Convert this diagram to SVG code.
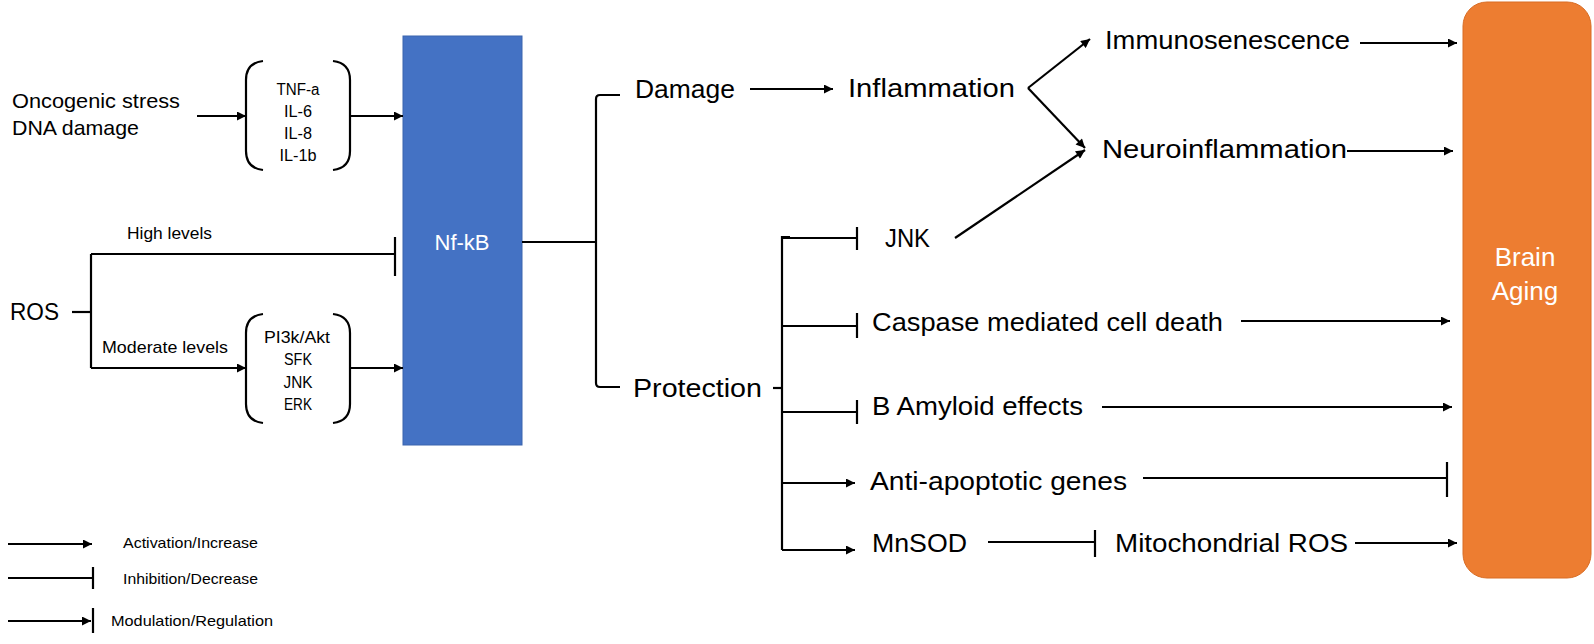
<svg xmlns="http://www.w3.org/2000/svg" width="1594" height="644" viewBox="0 0 1594 644">
<style>
.ln{stroke:#000;stroke-width:2.2;fill:none}
.t{font-family:"Liberation Sans",Arial,sans-serif;fill:#000}
.big{font-size:26px}
.mid{font-size:21px}
.sm{font-size:17px}
.br{font-size:16px}
.lg{font-size:15px}
.w{fill:#fff}
</style>
<defs>
<marker id="arr" viewBox="0 0 10 10" refX="10" refY="5" markerWidth="10" markerHeight="9" markerUnits="userSpaceOnUse" orient="auto">
<path d="M0,0 L10,5 L0,10 z" fill="#000"/>
</marker>
</defs>
<rect width="1594" height="644" fill="#fff"/>

<g id="nfkb">
<rect x="403" y="36" width="119" height="409" fill="#4472C4" stroke="#3A64AE" stroke-width="1"/>
<text class="t w" x="462" y="250" font-size="22" text-anchor="middle">Nf-kB</text>
</g>
<g id="brain-aging">
<rect x="1463" y="2" width="128" height="576" rx="24" ry="24" fill="#ED7D31" stroke="#D96D25" stroke-width="1"/>
<text class="t w" x="1525" y="266" font-size="26" text-anchor="middle">Brain</text>
<text class="t w" x="1525" y="300" font-size="26" text-anchor="middle">Aging</text>
</g>
<g id="stress">
<text class="t mid" x="12" y="108" textLength="168" lengthAdjust="spacingAndGlyphs">Oncogenic stress</text>
<text class="t mid" x="12" y="135" textLength="127" lengthAdjust="spacingAndGlyphs">DNA damage</text>
</g>
<g id="cytokines">
<path class="ln" d="M263,61 Q246,63 246,80 L246,151 Q246,168 263,170"/>
<path class="ln" d="M333,61 Q350,63 350,80 L350,151 Q350,168 333,170"/>
<text class="t br" x="298" y="95" text-anchor="middle" textLength="43" lengthAdjust="spacingAndGlyphs">TNF-a</text>
<text class="t br" x="298" y="117" text-anchor="middle" textLength="28" lengthAdjust="spacingAndGlyphs">IL-6</text>
<text class="t br" x="298" y="139" text-anchor="middle" textLength="28" lengthAdjust="spacingAndGlyphs">IL-8</text>
<text class="t br" x="298" y="161" text-anchor="middle" textLength="37" lengthAdjust="spacingAndGlyphs">IL-1b</text>
</g>
<g id="ros">
<text class="t" x="10" y="320" font-size="24" textLength="49" lengthAdjust="spacingAndGlyphs">ROS</text>
</g>
<g id="ros-labels">
<text class="t sm" x="127" y="239" textLength="85" lengthAdjust="spacingAndGlyphs">High levels</text>
<text class="t sm" x="102" y="353" textLength="126" lengthAdjust="spacingAndGlyphs">Moderate levels</text>
</g>
<g id="kinases">
<path class="ln" d="M263,314 Q246,316 246,333 L246,404 Q246,421 263,423"/>
<path class="ln" d="M333,314 Q350,316 350,333 L350,404 Q350,421 333,423"/>
<text class="t br" x="297" y="343" text-anchor="middle" textLength="66" lengthAdjust="spacingAndGlyphs">PI3k/Akt</text>
<text class="t br" x="298" y="365" text-anchor="middle" textLength="28" lengthAdjust="spacingAndGlyphs">SFK</text>
<text class="t br" x="298" y="388" text-anchor="middle" textLength="29" lengthAdjust="spacingAndGlyphs">JNK</text>
<text class="t br" x="298" y="410" text-anchor="middle" textLength="28" lengthAdjust="spacingAndGlyphs">ERK</text>
</g>
<g id="damage"><text class="t big" x="635" y="98" textLength="100" lengthAdjust="spacingAndGlyphs">Damage</text></g>
<g id="protection"><text class="t big" x="633" y="397" textLength="129" lengthAdjust="spacingAndGlyphs">Protection</text></g>
<g id="inflammation"><text class="t big" x="848" y="97" textLength="167" lengthAdjust="spacingAndGlyphs">Inflammation</text></g>
<g id="immunosenescence"><text class="t big" x="1105" y="49" textLength="245" lengthAdjust="spacingAndGlyphs">Immunosenescence</text></g>
<g id="neuroinflammation"><text class="t big" x="1102" y="158" textLength="245" lengthAdjust="spacingAndGlyphs">Neuroinflammation</text></g>
<g id="jnk"><text class="t big" x="885" y="247" textLength="45" lengthAdjust="spacingAndGlyphs">JNK</text></g>
<g id="caspase"><text class="t big" x="872" y="331" textLength="351" lengthAdjust="spacingAndGlyphs">Caspase mediated cell death</text></g>
<g id="amyloid"><text class="t big" x="872" y="415" textLength="211" lengthAdjust="spacingAndGlyphs">B Amyloid effects</text></g>
<g id="antiapoptotic"><text class="t big" x="870" y="490" textLength="257" lengthAdjust="spacingAndGlyphs">Anti-apoptotic genes</text></g>
<g id="mnsod"><text class="t big" x="872" y="552" textLength="95" lengthAdjust="spacingAndGlyphs">MnSOD</text></g>
<g id="mito-ros"><text class="t big" x="1115" y="552" textLength="233" lengthAdjust="spacingAndGlyphs">Mitochondrial ROS</text></g>
<g id="legend">
<text class="t lg" x="123" y="548" textLength="135" lengthAdjust="spacingAndGlyphs">Activation/Increase</text>
<text class="t lg" x="123" y="584" textLength="135" lengthAdjust="spacingAndGlyphs">Inhibition/Decrease</text>
<text class="t lg" x="111" y="626" textLength="162" lengthAdjust="spacingAndGlyphs">Modulation/Regulation</text>
</g>

<g id="connectors">
<line class="ln" x1="197" y1="116" x2="246" y2="116" marker-end="url(#arr)"/>
<line class="ln" x1="350" y1="116" x2="403" y2="116" marker-end="url(#arr)"/>
<line class="ln" x1="72" y1="312" x2="91" y2="312"/>
<line class="ln" x1="91" y1="254" x2="91" y2="368"/>
<line class="ln" x1="91" y1="254" x2="395" y2="254"/>
<line class="ln" x1="395" y1="237" x2="395" y2="276"/>
<line class="ln" x1="91" y1="368" x2="246" y2="368" marker-end="url(#arr)"/>
<line class="ln" x1="350" y1="368" x2="403" y2="368" marker-end="url(#arr)"/>
<line class="ln" x1="522" y1="242" x2="596" y2="242"/>
<path class="ln" d="M620,95 L600,95 Q596,95 596,99 L596,383 Q596,387 600,387 L620,387"/>
<line class="ln" x1="750" y1="89" x2="833" y2="89" marker-end="url(#arr)"/>
<line class="ln" x1="1028" y1="88" x2="1090" y2="39" marker-end="url(#arr)"/>
<line class="ln" x1="1028" y1="88" x2="1085" y2="148" marker-end="url(#arr)"/>
<line class="ln" x1="955" y1="238" x2="1085" y2="150" marker-end="url(#arr)"/>
<line class="ln" x1="1360" y1="43" x2="1457" y2="43" marker-end="url(#arr)"/>
<line class="ln" x1="1347" y1="151" x2="1453" y2="151" marker-end="url(#arr)"/>
<line class="ln" x1="773" y1="388" x2="782" y2="388"/>
<path class="ln" d="M790,237 L782,237 L782,550"/>
<line class="ln" x1="782" y1="238" x2="857" y2="238"/>
<line class="ln" x1="857" y1="227" x2="857" y2="250"/>
<line class="ln" x1="782" y1="326" x2="857" y2="326"/>
<line class="ln" x1="857" y1="313" x2="857" y2="338"/>
<line class="ln" x1="782" y1="412" x2="857" y2="412"/>
<line class="ln" x1="857" y1="400" x2="857" y2="424"/>
<line class="ln" x1="782" y1="483" x2="855" y2="483" marker-end="url(#arr)"/>
<line class="ln" x1="782" y1="550" x2="855" y2="550" marker-end="url(#arr)"/>
<line class="ln" x1="1241" y1="321" x2="1450" y2="321" marker-end="url(#arr)"/>
<line class="ln" x1="1102" y1="407" x2="1452" y2="407" marker-end="url(#arr)"/>
<line class="ln" x1="1143" y1="478" x2="1447" y2="478"/>
<line class="ln" x1="1447" y1="462" x2="1447" y2="497"/>
<line class="ln" x1="988" y1="542" x2="1095" y2="542"/>
<line class="ln" x1="1095" y1="530" x2="1095" y2="557"/>
<line class="ln" x1="1355" y1="543" x2="1457" y2="543" marker-end="url(#arr)"/>
<line class="ln" x1="8" y1="544" x2="92" y2="544" marker-end="url(#arr)"/>
<line class="ln" x1="8" y1="578" x2="93" y2="578"/>
<line class="ln" x1="93" y1="567" x2="93" y2="589"/>
<line class="ln" x1="8" y1="621" x2="91" y2="621" marker-end="url(#arr)"/>
<line class="ln" x1="93" y1="608" x2="93" y2="633"/>
</g>
</svg>
